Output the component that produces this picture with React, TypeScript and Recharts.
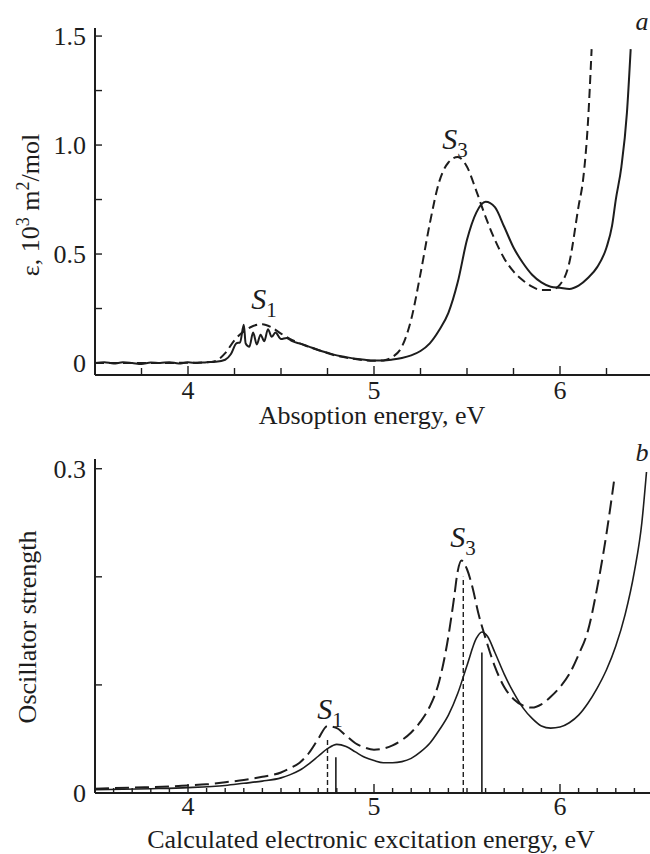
import React from "react";
import { LineChart, Line, XAxis, YAxis, ReferenceLine } from "recharts";

// Panel a: measured absorption (eV, 10^3 m2/mol)
const absSolid = [
  [3.5, 0.0], [3.55, 0.004], [3.6, -0.002], [3.65, 0.003], [3.7, 0.0], [3.75, -0.004],
  [3.8, 0.002], [3.85, 0.0], [3.9, 0.004], [3.95, -0.002], [4.0, 0.003], [4.05, 0.0],
  [4.1, 0.004], [4.15, 0.006], [4.2, 0.015], [4.23, 0.04], [4.26, 0.09], [4.28, 0.095],
  [4.3, 0.175], [4.31, 0.09], [4.33, 0.075], [4.35, 0.14], [4.37, 0.085], [4.39, 0.13],
  [4.41, 0.1], [4.43, 0.155], [4.45, 0.12], [4.47, 0.14], [4.5, 0.11], [4.53, 0.115],
  [4.56, 0.1], [4.6, 0.09], [4.65, 0.075], [4.7, 0.06], [4.75, 0.047], [4.8, 0.035],
  [4.85, 0.027], [4.9, 0.02], [4.95, 0.015], [5.0, 0.012], [5.05, 0.012], [5.1, 0.016],
  [5.15, 0.023], [5.2, 0.035], [5.25, 0.055], [5.3, 0.09], [5.35, 0.15], [5.4, 0.23],
  [5.45, 0.37], [5.5, 0.565], [5.55, 0.69], [5.6, 0.74], [5.65, 0.715], [5.7, 0.625],
  [5.75, 0.53], [5.8, 0.46], [5.85, 0.405], [5.9, 0.37], [5.95, 0.35], [6.0, 0.345],
  [6.05, 0.34], [6.1, 0.355], [6.15, 0.39], [6.2, 0.44], [6.25, 0.53], [6.28, 0.63],
  [6.3, 0.75], [6.33, 0.9], [6.36, 1.15], [6.38, 1.44],
];
const absDashed = [
  [3.5, 0.0], [3.8, 0.0], [4.1, 0.003], [4.15, 0.01], [4.2, 0.045], [4.25, 0.105],
  [4.3, 0.145], [4.35, 0.17], [4.4, 0.178], [4.45, 0.163], [4.5, 0.135], [4.55, 0.11],
  [4.6, 0.09], [4.7, 0.06], [4.8, 0.033], [4.9, 0.018], [5.0, 0.01], [5.05, 0.012],
  [5.1, 0.028], [5.15, 0.075], [5.2, 0.2], [5.25, 0.41], [5.3, 0.64], [5.35, 0.83],
  [5.4, 0.92], [5.45, 0.945], [5.5, 0.9], [5.55, 0.79], [5.6, 0.67], [5.65, 0.565],
  [5.7, 0.48], [5.75, 0.42], [5.8, 0.38], [5.85, 0.35], [5.9, 0.335], [5.95, 0.335],
  [6.0, 0.36], [6.05, 0.46], [6.1, 0.72], [6.124, 0.84], [6.15, 1.1], [6.17, 1.44],
];

// Panel b: calculated oscillator strength
const calcSolid = [
  [3.5, 0.003], [3.8, 0.004], [4.0, 0.005], [4.2, 0.007], [4.3, 0.009], [4.4, 0.011],
  [4.5, 0.014], [4.55, 0.017], [4.6, 0.021], [4.65, 0.027], [4.7, 0.034], [4.75, 0.041],
  [4.8, 0.045], [4.85, 0.043], [4.9, 0.038], [4.95, 0.033], [5.0, 0.03], [5.05, 0.028],
  [5.1, 0.028], [5.15, 0.029], [5.2, 0.032], [5.25, 0.038], [5.3, 0.046], [5.35, 0.058],
  [5.4, 0.072], [5.45, 0.092], [5.5, 0.118], [5.55, 0.143], [5.58, 0.149], [5.61, 0.145],
  [5.65, 0.13], [5.7, 0.11], [5.75, 0.093], [5.8, 0.079], [5.85, 0.069], [5.9, 0.062],
  [5.95, 0.06], [6.0, 0.061], [6.05, 0.065], [6.1, 0.072], [6.15, 0.083], [6.2, 0.097],
  [6.25, 0.114], [6.3, 0.136], [6.35, 0.165], [6.4, 0.205], [6.44, 0.25], [6.465, 0.297],
];
const calcDashed = [
  [3.5, 0.004], [3.7, 0.005], [3.9, 0.006], [4.0, 0.007], [4.1, 0.008], [4.2, 0.01],
  [4.3, 0.012], [4.4, 0.015], [4.5, 0.019], [4.55, 0.023], [4.6, 0.028], [4.65, 0.037],
  [4.7, 0.05], [4.75, 0.062], [4.8, 0.06], [4.85, 0.053], [4.9, 0.046], [4.95, 0.042],
  [5.0, 0.04], [5.05, 0.041], [5.1, 0.044], [5.15, 0.049], [5.2, 0.056], [5.25, 0.066],
  [5.3, 0.08], [5.35, 0.103], [5.4, 0.145], [5.43, 0.18], [5.45, 0.205], [5.47, 0.215],
  [5.5, 0.207], [5.53, 0.19], [5.56, 0.167], [5.6, 0.143], [5.65, 0.117], [5.7, 0.098],
  [5.75, 0.087], [5.8, 0.081], [5.85, 0.079], [5.9, 0.082], [5.95, 0.089], [6.0, 0.098],
  [6.05, 0.11], [6.1, 0.128], [6.15, 0.15], [6.2, 0.19], [6.25, 0.24], [6.29, 0.288],
];
// calculated transitions (energy, strength)
const sticksDashed = [[4.75, 0.051], [5.48, 0.2]];
const sticksSolid = [[4.795, 0.033], [5.58, 0.13]];

// ticks
const topXTicks = [3.75, 4, 4.25, 4.5, 4.75, 5, 5.25, 5.5, 5.75, 6, 6.25];
const botXTicks = [3.6, 3.7, 3.8, 3.9, 4, 4.1, 4.2, 4.3, 4.4, 4.5, 4.6, 4.7, 4.8, 4.9, 5, 5.1, 5.2, 5.3, 5.4, 5.5, 5.6, 5.7, 5.8, 5.9, 6, 6.1, 6.2, 6.3, 6.4];
const xMajor = [4, 5, 6];
const topYTicks = [0, 0.25, 0.5, 0.75, 1, 1.25, 1.5];
const topYMajor = [0, 0.5, 1, 1.5];
const botYTicks = [0, 0.1, 0.2, 0.3];
const botYMajor = [0, 0.3];

const FONT = '"Liberation Serif", "Times New Roman", serif';
const INK = "#1d1d1d";

const toPts = (arr: number[][]) => arr.map(([e, v]) => ({ e, v }));
const isIn = (list: number[], v: number) => list.some((m) => Math.abs(m - v) < 1e-6);
const fmtY = (v: number) => (v === 0 ? "0" : v.toFixed(1));

function makeXTick(majorLen: number, minorLen: number, labelDy: number) {
  return (props: any) => {
    const { x, y, payload } = props;
    const major = isIn(xMajor, payload.value);
    return (
      <g>
        <line x1={x} y1={y} x2={x} y2={y - (major ? majorLen : minorLen)} stroke={INK} strokeWidth={1.4} />
        {major && (
          <text x={x} y={y + labelDy} textAnchor="middle" fontFamily={FONT} fontSize={26} fill={INK}>
            {payload.value}
          </text>
        )}
      </g>
    );
  };
}

function makeYTick(majors: number[], len: number) {
  return (props: any) => {
    const { x, y, payload } = props;
    const major = isIn(majors, payload.value);
    return (
      <g>
        <line x1={x} y1={y} x2={x + len} y2={y} stroke={INK} strokeWidth={1.4} />
        {major && (
          <text x={x - 9} y={y + 9} textAnchor="end" fontFamily={FONT} fontSize={26} fill={INK}>
            {fmtY(payload.value)}
          </text>
        )}
      </g>
    );
  };
}

const textBase: React.CSSProperties = {
  position: "absolute",
  fontFamily: FONT,
  fontSize: 26,
  color: INK,
  lineHeight: 1,
  whiteSpace: "nowrap",
  transform: "translate(-50%, -50%)",
};

function Note({ x, y, children, rotate }: { x: number; y: number; children: React.ReactNode; rotate?: boolean }) {
  return (
    <div style={{ ...textBase, left: x, top: y, transform: rotate ? "translate(-50%, -50%) rotate(-90deg)" : textBase.transform }}>
      {children}
    </div>
  );
}

function SLabel({ x, y, n }: { x: number; y: number; n: number }) {
  return (
    <Note x={x} y={y}>
      <i style={{ fontSize: 30 }}>S</i>
      <span style={{ fontSize: 21, position: "relative", top: 8 }}>{n}</span>
    </Note>
  );
}

export default function App() {
  return (
    <div style={{ position: "absolute", left: 0, top: 0, width: 650, height: 854, overflow: "hidden", background: "#fff" }}>
      <div style={{ position: "absolute", left: 0, top: 0 }}>
        <LineChart width={654} height={425} margin={{ top: 28, right: 1, left: 0, bottom: 0 }}>
          <XAxis
            type="number"
            dataKey="e"
            domain={[3.5, 6.5]}
            allowDataOverflow
            ticks={topXTicks}
            interval={0}
            height={50}
            tickSize={0}
            tickMargin={0}
            tick={makeXTick(9, 7, 24)}
            axisLine={{ stroke: INK, strokeWidth: 2 }}
            tickLine={false}
          />
          <YAxis
            type="number"
            domain={[-0.055, 1.537]}
            allowDataOverflow
            ticks={topYTicks}
            interval={0}
            width={95}
            tickSize={0}
            tickMargin={0}
            tick={makeYTick(topYMajor, 7)}
            axisLine={{ stroke: INK, strokeWidth: 2 }}
            tickLine={false}
          />
          <Line data={toPts(absDashed)} dataKey="v" type="monotone" stroke={INK} strokeWidth={2} strokeDasharray="9 5" dot={false} isAnimationActive={false} />
          <Line data={toPts(absSolid)} dataKey="v" type="monotone" stroke={INK} strokeWidth={2} dot={false} isAnimationActive={false} />
        </LineChart>
      </div>
      <div style={{ position: "absolute", left: 0, top: 425 }}>
        <LineChart width={654} height={429} margin={{ top: 34, right: 1, left: 0, bottom: 0 }}>
          <XAxis
            type="number"
            dataKey="e"
            domain={[3.5, 6.5]}
            allowDataOverflow
            ticks={botXTicks}
            interval={0}
            height={61}
            tickSize={0}
            tickMargin={0}
            tick={makeXTick(9, 5, 22)}
            axisLine={{ stroke: INK, strokeWidth: 2 }}
            tickLine={false}
          />
          <YAxis
            type="number"
            domain={[0, 0.309]}
            allowDataOverflow
            ticks={botYTicks}
            interval={0}
            width={95}
            tickSize={0}
            tickMargin={0}
            tick={makeYTick(botYMajor, 7)}
            axisLine={{ stroke: INK, strokeWidth: 2 }}
            tickLine={false}
          />
          {sticksDashed.map(([e, f]) => (
            <ReferenceLine key={"d" + e} segment={[{ x: e, y: 0 }, { x: e, y: f }]} stroke={INK} strokeWidth={1.4} strokeDasharray="5 3" />
          ))}
          {sticksSolid.map(([e, f]) => (
            <ReferenceLine key={"s" + e} segment={[{ x: e, y: 0 }, { x: e, y: f }]} stroke={INK} strokeWidth={1.6} />
          ))}
          <Line data={toPts(calcDashed)} dataKey="v" type="monotone" stroke={INK} strokeWidth={2} strokeDasharray="14 6" dot={false} isAnimationActive={false} />
          <Line data={toPts(calcSolid)} dataKey="v" type="monotone" stroke={INK} strokeWidth={1.6} dot={false} isAnimationActive={false} />
        </LineChart>
      </div>

      <Note x={372} y={416}>Absoption energy, eV</Note>
      <Note x={371} y={840}>Calculated electronic excitation energy, eV</Note>
      <Note x={29} y={205} rotate>
        ε, 10<sup style={{ fontSize: 18 }}>3</sup> m<sup style={{ fontSize: 18 }}>2</sup>/mol
      </Note>
      <Note x={28} y={627} rotate>Oscillator strength</Note>

      <SLabel x={264} y={299} n={1} />
      <SLabel x={455} y={139} n={3} />
      <SLabel x={330} y={709} n={1} />
      <SLabel x={463} y={537} n={3} />

      <Note x={642} y={22}><i>a</i></Note>
      <Note x={642} y={453}><i>b</i></Note>
    </div>
  );
}
